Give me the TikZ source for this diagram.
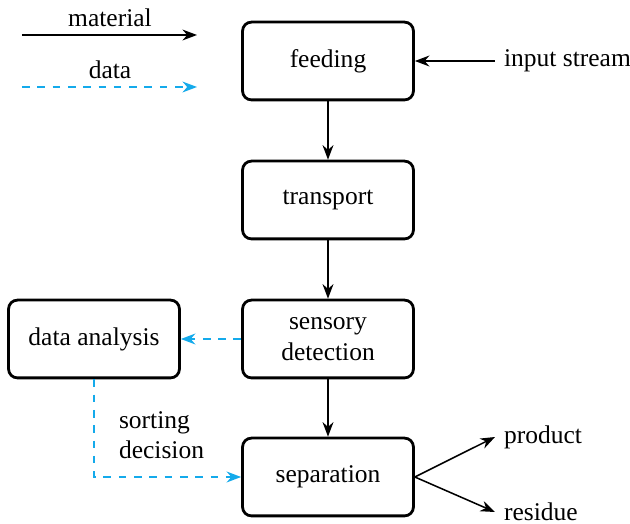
\documentclass[tikz,border=0pt]{standalone}
\usepackage{fontspec}
\setmainfont{Liberation Serif}
\usetikzlibrary{arrows.meta}
\definecolor{datablue}{RGB}{20,170,235}

\begin{document}
\begin{tikzpicture}[x=0.392pt, y=-0.392pt, >=Stealth,
        block/.style={draw, line width=1.1pt, rounded corners=3.5pt, minimum width=67pt, minimum height=30.5pt, align=center},
        mat/.style={->, semithick},
        dat/.style={->, semithick, dashed, datablue}]
        \useasboundingbox (0,0) rectangle (630,524);
        % legend
        \coordinate (m1) at (22,35);
        \coordinate (m2) at (197,35);
        \coordinate (d1) at (22,87);
        \coordinate (d2) at (197,87);
        \node (mtext) at (110,18) {material};
        \node (dtext) at (110,70) {data};
        \draw[mat] (m1) -- (m2);
        \draw[dat] (d1) -- (d2);
        % process chain
        \node[block] (feeding) at (328,61) {feeding};
        \node[block] (transport) at (328,200) {transport};
        \node[block] (detection) at (328,339) {sensory\\detection};
        \node[block] (separation) at (328,477) {separation};
        \node[block] (analysis) at (94,339) {data analysis};
        \node[anchor=west] (input) at (495,61) {input stream};
        \node[anchor=west] (product) at (495,437) {product};
        \node[anchor=west] (residue) at (495,512) {residue};
        \node[anchor=west, align=left] (decision) at (110,435) {sorting\\decision};
        \draw[mat] (input) -- (feeding);
        \draw[mat] (feeding) -- (transport);
        \draw[mat] (transport) -- (detection);
        \draw[mat] (detection) -- (separation);
        \draw[mat] (separation.east) -- (product.west);
        \draw[mat] (separation.east) -- (residue.west);
        \draw[dat] (detection) -- (analysis);
        \draw[dat] (analysis.south) |- (separation.west);
    \end{tikzpicture}
\end{document}
